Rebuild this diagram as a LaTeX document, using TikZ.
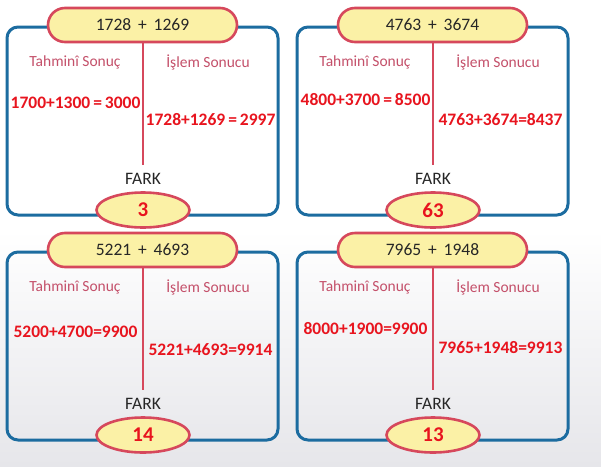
\documentclass[tikz,border=0pt]{standalone}
\usepackage{fontspec}
\setmainfont{Carlito}
\usetikzlibrary{shapes.geometric}
\definecolor{boxblue}{RGB}{28,108,160}
\definecolor{pillred}{RGB}{214,72,92}
\definecolor{pillfill}{RGB}{251,241,166}
\definecolor{labelpink}{RGB}{196,80,106}
\definecolor{numred}{RGB}{232,20,30}
\definecolor{bggray}{RGB}{230,230,234}
\tikzset{
  panelbox/.style={draw=boxblue, line width=3pt, rounded corners=11pt},
  pill/.style={draw=pillred, fill=pillfill, line width=2.6pt, rounded corners=17pt,
    minimum width=189pt, minimum height=34pt, inner sep=0pt,
    font=\fontsize{17.5}{17.5}\selectfont, text=black!85},
  divider/.style={draw=pillred, line width=2pt},
  colhead/.style={text=labelpink, font=\fontsize{15.5}{15.5}\selectfont, inner sep=0pt},
  eqn/.style={text=numred, font=\fontsize{17.5}{17.5}\selectfont\bfseries, inner sep=0pt},
  farklabel/.style={text=black!85, font=\fontsize{17.5}{17.5}\selectfont, inner sep=0pt},
  diffoval/.style={ellipse, draw=pillred, fill=pillfill, line width=2.6pt,
    minimum width=93pt, minimum height=35pt, inner sep=0pt,
    text=numred, font=\fontsize{21}{21}\selectfont\bfseries}
}
\newcommand{\mypanel}[9]{%
  \begin{scope}[shift={(#1,#2)}]
    \draw[panelbox] (7,27) rectangle (278,215);
    \node[pill] (#7h) at (142.5,25) {#3};
    \coordinate (#7e) at (143,165);
    \draw[divider] (#7h.south -| #7e) -- (#7e);
    \node[colhead] (#7t) at (75,62) {Tahminî Sonuç};
    \node[colhead] (#7i) at (208,62) {İşlem Sonucu};
    \node[eqn] (#7l) at (75.5,#8) {#4};
    \node[eqn] (#7r) at (210.5,#9) {#5};
    \node[farklabel] (#7f) at (143,179) {FARK};
    \node[diffoval] (#7d) at (143,210) {#6};
  \end{scope}}
\begin{document}
\begin{tikzpicture}[x=1pt,y=-1pt]
  \useasboundingbox (0,0) rectangle (601,466);
  \fill[white] (0,0) rectangle (601,230);
  \shade[top color=white, bottom color=bggray] (0,230) rectangle (601,466);
  \mypanel{0}{0}{1728 \,+\, 1269}{1700+1300\,=\,3000}{1728+1269\,=\,2997}{3}{a}{103}{120}
  \mypanel{290}{0}{4763 \,+\, 3674}{4800+3700\,=\,8500}{4763+3674=8437}{63}{b}{100}{120}
  \mypanel{0}{225}{5221 \,+\, 4693}{5200+4700=9900}{5221+4693=9914}{14}{c}{107}{125}
  \mypanel{290}{225}{7965 \,+\, 1948}{8000+1900=9900}{7965+1948=9913}{13}{d}{104}{123}
\end{tikzpicture}
\end{document}
